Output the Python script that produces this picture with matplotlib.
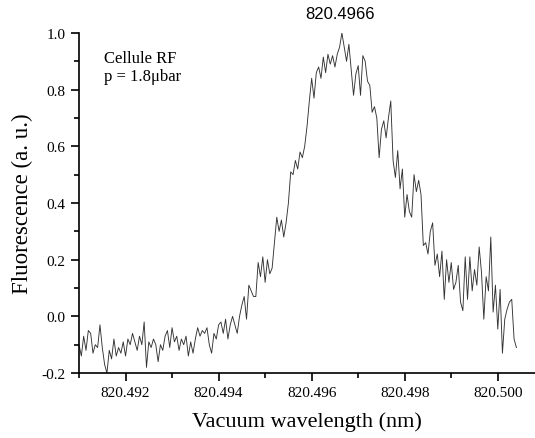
import numpy as np
import matplotlib.pyplot as plt
from matplotlib.ticker import MultipleLocator, FormatStrFormatter

plt.rcParams['font.family'] = ['Liberation Serif', 'DejaVu Serif']
plt.rcParams['axes.unicode_minus'] = False

# scan: 820.491 nm onwards, one sample every 0.05 pm
wl_start = 820.491
wl_step = 0.00005
fluo = [
    # baseline
    -0.10, -0.14, -0.07, -0.12, -0.05, -0.06, -0.13, -0.10, -0.11, -0.03,
    -0.11, -0.17, -0.20, -0.12, -0.15, -0.08, -0.14, -0.11, -0.13, -0.09,
    -0.14, -0.08, -0.10,
    -0.06, -0.09, -0.12, -0.07, -0.10, -0.02, -0.18, -0.09, -0.11, -0.08,
    -0.10, -0.16, -0.10, -0.12, -0.07, -0.05, -0.11, -0.04, -0.09, -0.07,
    -0.12, -0.08, -0.10, -0.07,
    -0.14, -0.09, -0.13, -0.08, -0.04, -0.07, -0.05, -0.06, -0.04, -0.10,
    -0.13, -0.06, -0.08, -0.03, -0.02, -0.06, -0.01, -0.08, -0.03, 0.00,
    -0.03, -0.06, 0.00, 0.04,
    # rising edge
    0.07, -0.01, 0.11, 0.09, 0.07, 0.07, 0.19, 0.14, 0.21, 0.12,
    0.20, 0.15, 0.17, 0.26, 0.35, 0.30, 0.34, 0.28, 0.33, 0.40,
    0.51, 0.50, 0.55, 0.52, 0.58,
    # top
    0.56, 0.60, 0.67, 0.76, 0.84, 0.77, 0.86, 0.88, 0.84, 0.915,
    0.86, 0.925, 0.89, 0.92, 0.88, 0.925, 0.95, 1.00, 0.95, 0.90,
    0.96, 0.87, 0.78, 0.855, 0.885, 0.78, 0.92, 0.90, 0.83, 0.815,
    # falling edge
    0.72, 0.74, 0.70, 0.56, 0.66, 0.69, 0.63, 0.70, 0.76, 0.55,
    0.49, 0.585, 0.45, 0.52, 0.35, 0.43, 0.37, 0.35, 0.50, 0.44,
    0.48, 0.43, 0.25, 0.26, 0.22,
    0.30, 0.33, 0.18, 0.22, 0.14, 0.23, 0.06, 0.20, 0.12, 0.19,
    0.095, 0.12, 0.18, 0.05, 0.02, 0.21, 0.06, 0.21, 0.09, 0.165,
    0.11, 0.245, 0.155, -0.01, 0.14, 0.09, 0.28, 0.015, 0.11, -0.045,
    0.095, -0.13, -0.01, 0.025, 0.05, 0.06, -0.08, -0.11,
]
peak_wl = 820.4966

wl = wl_start + wl_step * np.arange(len(fluo))

fig = plt.figure(figsize=(5.35, 4.39), dpi=100)
ax = fig.add_axes([0.1477, 0.148, 0.8523, 0.7746])
ax.plot(wl, fluo, color='#333333', lw=0.65)

ax.set_xlim(820.491, 820.5008)
ax.set_ylim(-0.2, 1.0)
ax.xaxis.set_major_locator(MultipleLocator(0.002))
ax.xaxis.set_minor_locator(MultipleLocator(0.001))
ax.xaxis.set_major_formatter(FormatStrFormatter('%.3f'))
ax.yaxis.set_major_locator(MultipleLocator(0.2))
ax.yaxis.set_minor_locator(MultipleLocator(0.1))
ax.yaxis.set_major_formatter(FormatStrFormatter('%.1f'))

for s in ['top', 'right']:
    ax.spines[s].set_visible(False)
for s in ['left', 'bottom']:
    ax.spines[s].set_linewidth(1.2)
ax.tick_params(which='major', direction='out', length=6, width=1.2, labelsize=11)
ax.tick_params(which='minor', direction='out', length=3.5, width=1.2)

ax.set_xlabel('Vacuum wavelength (nm)', fontsize=16, labelpad=9)
ax.set_ylabel('Fluorescence (a. u.)', fontsize=16.5, labelpad=6)

ax.text(0.055, 0.95, 'Cellule RF\np = 1.8\u03bcbar', transform=ax.transAxes,
        fontsize=12, va='top', linespacing=1.2)
ax.text(peak_wl, 1.035, '820.4966', transform=ax.get_xaxis_transform(),
        ha='center', va='bottom', fontsize=12, family='Liberation Sans')

fig.savefig('out.png', dpi=100)
